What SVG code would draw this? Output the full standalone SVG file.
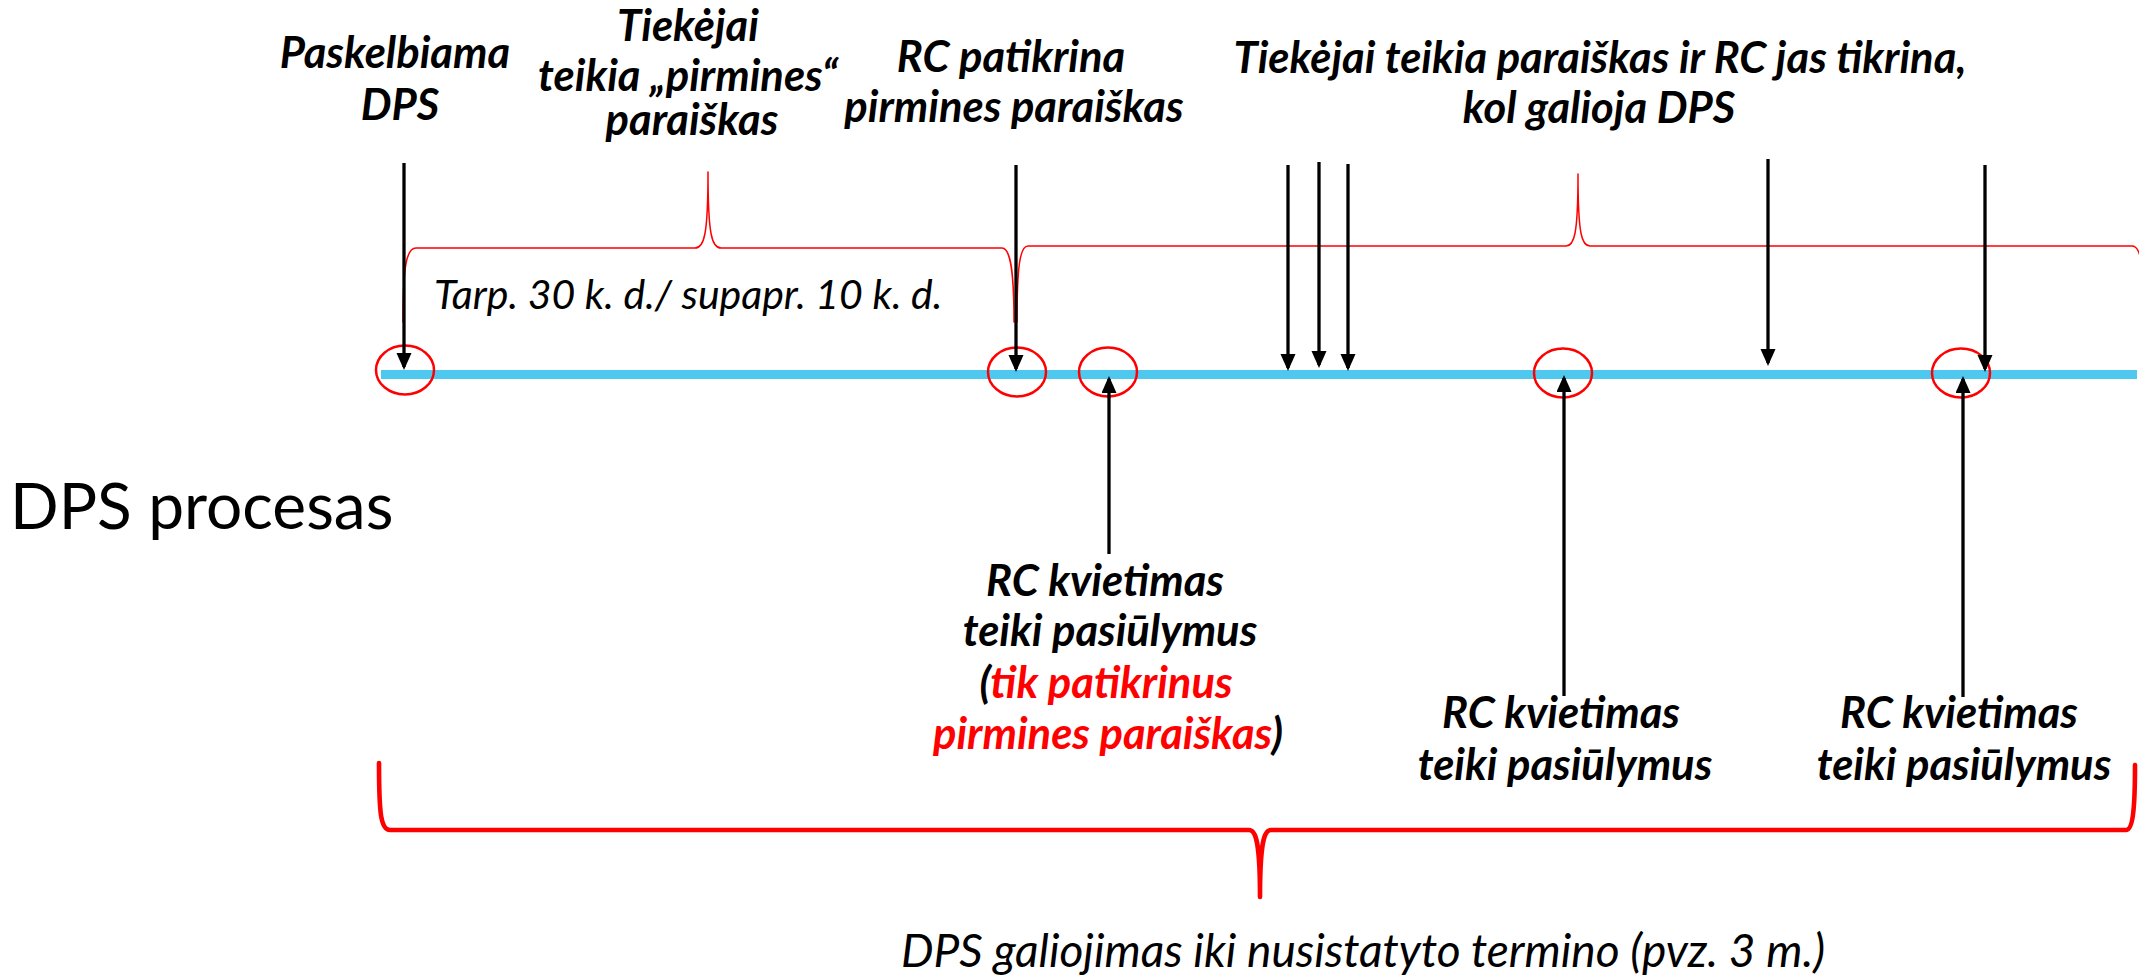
<svg xmlns="http://www.w3.org/2000/svg" width="2139" height="980" viewBox="0 0 2139 980">
<defs>
<style>
.b{font-family:Lato,"Open Sans","Liberation Sans",sans-serif;font-weight:700;font-style:italic;font-size:43.5px;fill:#000;text-anchor:middle}
.it{font-family:Lato,"Open Sans","Liberation Sans",sans-serif;font-weight:400;font-style:italic;fill:#000}
.red{fill:#ff0000}
.arr{stroke:#000;stroke-width:3.3;fill:none;marker-end:url(#ah)}
.circ{fill:none;stroke:#ff0000;stroke-width:2.5}
.br{fill:none;stroke:#ff0000;stroke-linecap:round;stroke-linejoin:round}
</style>
<marker id="ah" markerUnits="userSpaceOnUse" markerWidth="18" markerHeight="16" refX="14" refY="7.5" orient="auto">
<path d="M0,0 L17,7.5 L0,15 z" fill="#000"/>
</marker>
</defs>
<rect width="2139" height="980" fill="#fff"/>

<g id="timeline">
<line x1="381" y1="374.5" x2="2137" y2="374.5" stroke="#4fc8f0" stroke-width="9"/>
</g>

<g id="markers">
<ellipse class="circ" cx="405" cy="370" rx="29" ry="24.5"/>
<ellipse class="circ" cx="1017" cy="372" rx="29" ry="24.5"/>
<ellipse class="circ" cx="1108" cy="372" rx="29" ry="24.5"/>
<ellipse class="circ" cx="1563" cy="373" rx="29" ry="24.5"/>
<ellipse class="circ" cx="1961" cy="373" rx="29" ry="24.5"/>
</g>

<g id="braces">
<path class="br" stroke-width="1.5" d="M403 322 C403 268 406 248 416 248 L695 248 C704 248 708 236 708 172 C708 236 712 248 721 248 L1002 248 C1010 248 1014 268 1014 322"/>
<path class="br" stroke-width="1.5" d="M1017 322 C1017 266 1020 246 1028 246 L1566 246 C1574 246 1578 236 1578 174 C1578 236 1582 246 1590 246 L2132 246 C2138 246 2141 256 2142 270"/>
<path class="br" stroke-width="4.6" d="M379 763 C379 815 381 830 390 830 L1249 830 C1256 830 1260 842 1260 897 C1260 842 1264 830 1271 830 L2126 830 C2132 830 2135 815 2135 765"/>
</g>

<g id="connectors">
<line class="arr" x1="404" y1="163" x2="404" y2="367"/>
<line class="arr" x1="1016" y1="165" x2="1016" y2="369"/>
<line class="arr" x1="1288" y1="165" x2="1288" y2="368"/>
<line class="arr" x1="1319" y1="162" x2="1319" y2="365"/>
<line class="arr" x1="1348" y1="164" x2="1348" y2="368"/>
<line class="arr" x1="1768" y1="159" x2="1768" y2="363"/>
<line class="arr" x1="1985" y1="165" x2="1985" y2="369"/>
<line class="arr" x1="1109" y1="554" x2="1109" y2="379"/>
<line class="arr" x1="1564" y1="696" x2="1564" y2="378"/>
<line class="arr" x1="1963" y1="697" x2="1963" y2="379"/>
</g>

<g id="label-dps-procesas">
<text x="10" y="529" font-family="Lato,'Open Sans','Liberation Sans',sans-serif" font-size="64" fill="#000">DPS procesas</text>
</g>

<g id="node-paskelbiama">
<text class="b"><tspan x="395" y="68">Paskelbiama</tspan><tspan x="400" y="120">DPS</tspan></text>
</g>

<g id="node-tiekejai-pirmines">
<text class="b"><tspan x="688" y="41">Tiekėjai</tspan><tspan x="688" y="90.5">teikia „pirmines“</tspan><tspan x="692" y="135">paraiškas</tspan></text>
</g>

<g id="node-rc-patikrina">
<text class="b"><tspan x="1011" y="72">RC patikrina</tspan><tspan x="1014" y="122">pirmines paraiškas</tspan></text>
</g>

<g id="node-tiekejai-teikia">
<text class="b"><tspan x="1600" y="73">Tiekėjai teikia paraiškas ir RC jas tikrina,</tspan><tspan x="1599" y="123">kol galioja DPS</tspan></text>
</g>

<g id="node-tarp">
<text class="it" x="434" y="309" font-size="41">Tarp. 30 k. d./ supapr. 10 k. d.</text>
</g>

<g id="node-kvietimas-1">
<text class="b"><tspan x="1105" y="596">RC kvietimas</tspan><tspan x="1110" y="646">teiki pasiūlymus</tspan><tspan x="1106" y="697.5">(<tspan class="red">tik patikrinus</tspan></tspan><tspan x="1108" y="749"><tspan class="red">pirmines paraiškas</tspan>)</tspan></text>
</g>

<g id="node-kvietimas-2">
<text class="b"><tspan x="1561" y="728">RC kvietimas</tspan><tspan x="1565" y="780">teiki pasiūlymus</tspan></text>
</g>

<g id="node-kvietimas-3">
<text class="b"><tspan x="1959" y="728">RC kvietimas</tspan><tspan x="1964" y="780">teiki pasiūlymus</tspan></text>
</g>

<g id="node-galiojimas">
<text class="it" x="1363" y="967" font-size="46" text-anchor="middle">DPS galiojimas iki nusistatyto termino (pvz. 3 m.)</text>
</g>
</svg>
